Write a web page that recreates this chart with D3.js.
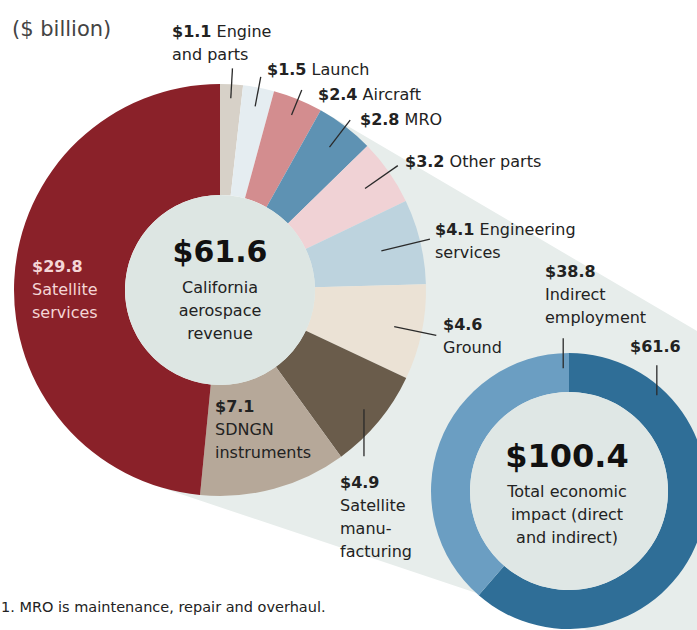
<!DOCTYPE html>
<html>
<head>
<meta charset="utf-8">
<script src="https://cdn.jsdelivr.net/npm/d3@7"></script>
<style>
  body { margin: 0; background: #fff; }
  text { font-family: "DejaVu Sans", sans-serif; }
</style>
</head>
<body>
<script>
// revenue by segment, clockwise from 12 o'clock
var segNames = ["Engine and parts", "Launch", "Aircraft", "MRO", "Other parts",
    "Engineering services", "Ground", "Satellite manufacturing", "SDNGN instruments", "Satellite services"];
var segValues = [1.1, 1.5, 2.4, 2.8, 3.2, 4.1, 4.6, 4.9, 7.1, 29.8];
var segLines = [["Engine", "and parts"], ["Launch"], ["Aircraft"], ["MRO"], ["Other parts"],
    ["Engineering", "services"], ["", "Ground"], ["", "Satellite", "manu-", "facturing"],
    ["", "SDNGN", "instruments"], ["", "Satellite", "services"]];
var revenueTotal = 61.6;
var revenueLines = ["California", "aerospace", "revenue"];

// total economic impact
var impactNames = ["Direct", "Indirect employment"];
var impactValues = [61.6, 38.8];
var impactLines = [[""], ["", "Indirect", "employment"]];
var impactTotal = 100.4;
var impactTitle = ["Total economic", "impact (direct", "and indirect)"];

var unitLabel = "($ billion)";
var footnote = "1. MRO is maintenance, repair and overhaul.";

var width = 697, height = 630;
var segColors = ["#d7d1c8", "#e5edf1", "#d38d8f", "#5e92b3", "#f0d2d5",
    "#bdd3de", "#ebe2d5", "#6a5c4b", "#b6a899", "#8a2129"];
var impactColors = ["#2f6e97", "#6b9ec2"];

var svg = d3.select("body").append("svg")
    .attr("width", width)
    .attr("height", height);

var c1 = [220, 290], R1 = 206, r1 = 95;
var c2 = [569, 491], R2 = 138, r2 = 99;

// the light "zoom" band joining the two rings
function onCircle(c, r, deg) {
    var a = deg * Math.PI / 180;
    return [c[0] + r * Math.sin(a), c[1] - r * Math.cos(a)];
}
var pu = onCircle(c1, R1, 30.4), pl = onCircle(c1, R1, 198.5);
svg.append("path")
    .attr("d", d3.line()([pu, [pu[0] + 0.8626 * 700, pu[1] + 0.506 * 700],
        [900, 900], [pl[0] + 0.948 * 800, pl[1] + 0.317 * 800], pl, c1]))
    .style("fill", "#e7edeb");

// main ring
var pie = d3.pie().sort(null).value(function (d) { return d; });
var arc1 = d3.arc().innerRadius(r1).outerRadius(R1);
var segArcs = pie(segValues);
var g1 = svg.append("g").attr("transform", "translate(" + c1 + ")");
g1.selectAll("path")
    .data(segArcs)
    .enter()
    .append("path")
    .attr("d", arc1)
    .style("fill", function (d, i) { return segColors[i]; });
g1.append("circle").attr("r", r1).style("fill", "#dde6e3");

// second ring
var arc2 = d3.arc().innerRadius(r2).outerRadius(R2);
var impArcs = pie(impactValues);
var g2 = svg.append("g").attr("transform", "translate(" + c2 + ")");
g2.selectAll("path")
    .data(impArcs)
    .enter()
    .append("path")
    .attr("d", arc2)
    .style("fill", function (d, i) { return impactColors[i]; });
g2.append("circle").attr("r", r2).style("fill", "#dfe7e5");

// label placement (x, baseline y) and leader lines
var segPos = [[172, 37], [267, 75], [318, 100], [360, 125], [405, 167],
    [435, 235], [443, 330], [340, 488], [215, 412], [32, 272]];
var segLeader = [
    {r0: 192, r1: 222}, {r0: 187, r1: 217}, {r0: 189, r1: 216}, {r0: 180, r1: 214},
    {r0: 177, r1: 217}, {r0: 166, r1: 216}, {r0: 178, r1: 221},
    {r0: 187, dy: 47}, null, null];
var impPos = [[630, 352], [545, 277]];
var impLeader = [{deg: 42.5, r0: 130, dy: -30}, {deg: 357.3, r0: 123, dy: -30}];

function midDeg(d) { return (d.startAngle + d.endAngle) / 2 * 180 / Math.PI; }

var leaders = svg.append("g")
    .style("stroke", "#2a2a2a")
    .style("stroke-width", 1.3);
segArcs.forEach(function (d, i) {
    var L = segLeader[i];
    if (!L) return;
    var p0 = onCircle(c1, L.r0, midDeg(d));
    var p1 = L.dy ? [p0[0], p0[1] + L.dy] : onCircle(c1, L.r1, midDeg(d));
    leaders.append("line")
        .attr("x1", p0[0]).attr("y1", p0[1])
        .attr("x2", p1[0]).attr("y2", p1[1]);
});
impLeader.forEach(function (L) {
    var p0 = onCircle(c2, L.r0, L.deg);
    leaders.append("line")
        .attr("x1", p0[0]).attr("y1", p0[1])
        .attr("x2", p0[0]).attr("y2", p0[1] + L.dy);
});

function fmt(v) { return "$" + v.toFixed(1); }

function addLabel(pos, value, lines, color) {
    var t = svg.append("text")
        .attr("x", pos[0]).attr("y", pos[1])
        .style("font-size", "16px")
        .style("fill", color);
    t.append("tspan").style("font-weight", "bold").text(fmt(value));
    if (lines[0]) t.append("tspan").text(" " + lines[0]);
    lines.slice(1).forEach(function (s, k) {
        svg.append("text")
            .attr("x", pos[0]).attr("y", pos[1] + 23 * (k + 1))
            .style("font-size", "16px")
            .style("fill", color)
            .text(s);
    });
}
segValues.forEach(function (v, i) {
    addLabel(segPos[i], v, segLines[i], i === 9 ? "#f4d6d6" : "#222");
});
impactValues.forEach(function (v, i) {
    addLabel(impPos[i], v, impactLines[i], "#222");
});

// centre texts
svg.append("text")
    .attr("x", c1[0]).attr("y", 262)
    .attr("text-anchor", "middle")
    .style("font-size", "30px").style("font-weight", "bold").style("fill", "#111")
    .text(fmt(revenueTotal));
revenueLines.forEach(function (s, k) {
    svg.append("text")
        .attr("x", c1[0]).attr("y", 293 + 23 * k)
        .attr("text-anchor", "middle")
        .style("font-size", "16px").style("fill", "#222")
        .text(s);
});
svg.append("text")
    .attr("x", c2[0] - 2).attr("y", 467)
    .attr("text-anchor", "middle")
    .style("font-size", "32px").style("font-weight", "bold").style("fill", "#111")
    .text(fmt(impactTotal));
impactTitle.forEach(function (s, k) {
    svg.append("text")
        .attr("x", c2[0] - 2).attr("y", 497 + 23 * k)
        .attr("text-anchor", "middle")
        .style("font-size", "16px").style("fill", "#222")
        .text(s);
});

svg.append("text")
    .attr("x", 12).attr("y", 36)
    .style("font-size", "21px").style("fill", "#444")
    .text(unitLabel);

svg.append("text")
    .attr("x", 1).attr("y", 612)
    .style("font-size", "14.5px").style("fill", "#222")
    .text(footnote);
</script>
</body>
</html>
